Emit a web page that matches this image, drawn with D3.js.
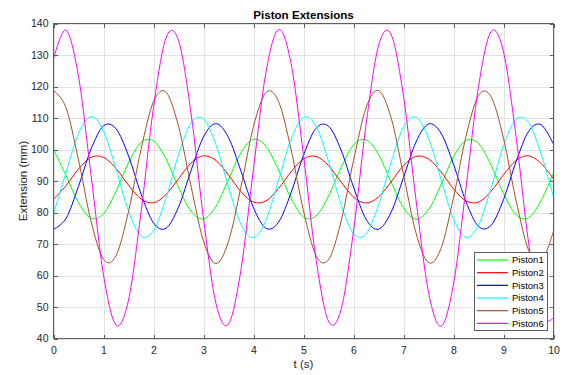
<!DOCTYPE html>
<html><head><meta charset="utf-8">
<script src="https://cdn.jsdelivr.net/npm/d3@7"></script>
<style>
body{margin:0;background:#fff;}
svg{display:block;font-family:"Liberation Sans",Arial,Helvetica,sans-serif;}
</style></head><body>
<svg id="chart" width="565" height="375"></svg>
<script>
// ---- data ----
const times = [0,0.25,0.5,0.75,1,1.25,1.5,1.75,2,2.25,2.5,2.75,3,3.25,3.5,3.75,4,4.25,4.5,4.75,5,5.25,5.5,5.75,6,6.25,6.5,6.75,7,7.25,7.5,7.75,8,8.25,8.5,8.75,9,9.25,9.5,9.75,10];
const piston1 = [100.0,91.8,83.1,78.2,79.6,86.7,95.8,102.2,102.7,97.0,88.0,80.4,78.0,82.0,90.5,99.0,103.2,101.0,93.5,84.5,78.6,78.9,85.2,94.2,101.4,103.1,98.4,89.7,81.5,77.9,80.9,88.8,97.7,102.9,101.9,95.1,86.0,79.3,78.3,83.7,92.6];
const piston2 = [84.2,88.5,93.8,97.5,97.5,94.0,88.7,84.3,83.1,85.7,90.7,95.7,98.0,96.5,91.9,86.6,83.3,83.7,87.6,92.9,97.0,97.8,94.9,89.7,84.9,83.0,84.9,89.7,94.9,97.8,97.0,92.9,87.5,83.7,83.3,86.7,92.0,96.5,98.0,95.6,90.7];
const piston3 = [74.7,78.1,88.3,100.1,107.5,106.6,98.0,85.9,76.7,75.0,81.7,93.3,104.0,108.2,103.8,93.1,81.5,75.0,76.9,86.2,98.2,106.7,107.4,99.9,88.1,77.9,74.7,80.0,91.1,102.4,108.1,105.2,95.3,83.4,75.6,75.9,84.1,96.1,105.7,107.9,101.7];
const piston4 = [79.5,92.7,105.1,110.4,105.9,93.8,80.5,72.6,74.2,84.6,98.3,108.4,109.7,101.5,88.1,76.2,72.0,77.6,90.2,103.3,110.2,107.4,96.3,82.6,73.3,73.2,82.3,95.9,107.1,110.2,103.6,90.6,77.9,72.1,76.0,87.7,101.2,109.6,108.6,98.7,85.0];
const piston5 = [118.7,113.3,96.7,77.3,65.1,66.3,80.3,100.0,115.2,118.2,107.4,88.4,70.9,63.8,70.8,88.2,107.3,118.1,115.3,100.1,80.5,66.4,65.0,77.1,96.5,113.2,118.7,110.2,92.0,73.5,64.1,68.6,84.7,104.2,117.1,116.8,103.5,83.9,68.1,64.2,74.1];
const piston6 = [128.7,137.9,123.2,92.0,60.2,44.3,52.2,80.0,113.4,135.4,134.6,111.6,78.0,51.1,44.6,61.9,94.0,124.6,138.1,127.4,98.1,65.2,45.5,49.1,74.1,107.8,132.9,136.6,116.9,84.0,54.7,43.9,57.3,87.8,120.0,137.4,131.0,104.2,70.6,47.5,46.6];
const seriesNames = ["Piston1","Piston2","Piston3","Piston4","Piston5","Piston6"];
const xTicks = [0,1,2,3,4,5,6,7,8,9,10];
const yTicks = [40,50,60,70,80,90,100,110,120,130,140];

// ---- styles ----
const seriesColors = ["#00ff00","#ff0000","#0000ff","#00ffff","#a0522d","#ff00ff"];
const seriesValues = [piston1,piston2,piston3,piston4,piston5,piston6];
const series = seriesNames.map((n,i)=>({name:n,color:seriesColors[i],values:seriesValues[i]}));

const W=565,H=375;
const m = {left:53.5,right:553.5,top:23.5,bottom:338.5};
const x = d3.scaleLinear().domain([0,10]).range([m.left,m.right]);
const y = d3.scaleLinear().domain([40,140]).range([m.bottom,m.top]);
const svg = d3.select("#chart");
const txt = "#262626", axc = "#5e5e5e", gridc = "#e2e2e2";

svg.append("rect").attr("width",W).attr("height",H).attr("fill","#fff");

// grid
svg.append("g").attr("transform",`translate(0,${m.bottom})`)
  .call(d3.axisBottom(x).tickValues(xTicks).tickSize(-(m.bottom-m.top)).tickFormat(""))
  .call(g=>{g.select(".domain").remove();g.selectAll("line").attr("stroke",gridc).attr("shape-rendering","crispEdges");});
svg.append("g").attr("transform",`translate(${m.left},0)`)
  .call(d3.axisLeft(y).tickValues(yTicks).tickSize(-(m.right-m.left)).tickFormat(""))
  .call(g=>{g.select(".domain").remove();g.selectAll("line").attr("stroke",gridc).attr("shape-rendering","crispEdges");});

// lines
svg.append("clipPath").attr("id","clip").append("rect")
  .attr("x",m.left).attr("y",m.top).attr("width",m.right-m.left).attr("height",m.bottom-m.top);
const line = d3.line().x((d,i)=>x(times[i])).y(d=>y(d)).curve(d3.curveCatmullRom.alpha(0));
svg.append("g").attr("clip-path","url(#clip)").selectAll("path").data(series).join("path")
  .attr("d",d=>line(d.values)).attr("fill","none").attr("stroke",d=>d.color).attr("stroke-width",1);

// axes (ticks inside, box)
function styleAxis(g){
  g.select(".domain").remove();
  g.selectAll(".tick line").attr("stroke",axc).attr("shape-rendering","crispEdges");
  g.selectAll("text").attr("fill",txt).attr("font-size","10.5px").attr("font-family",null);
}
svg.append("g").attr("transform",`translate(0,${m.bottom})`)
  .call(d3.axisBottom(x).tickValues(xTicks).tickSizeInner(-4).tickSizeOuter(0).tickPadding(8)).call(styleAxis);
svg.append("g").attr("transform",`translate(0,${m.top})`)
  .call(d3.axisTop(x).tickValues(xTicks).tickSizeInner(-4).tickSizeOuter(0).tickFormat("")).call(styleAxis);
svg.append("g").attr("transform",`translate(${m.left},0)`)
  .call(d3.axisLeft(y).tickValues(yTicks).tickSizeInner(-4).tickSizeOuter(0).tickPadding(5)).call(styleAxis);
svg.append("g").attr("transform",`translate(${m.right},0)`)
  .call(d3.axisRight(y).tickValues(yTicks).tickSizeInner(-4).tickSizeOuter(0).tickFormat("")).call(styleAxis);
svg.append("rect").attr("x",m.left).attr("y",m.top).attr("width",m.right-m.left).attr("height",m.bottom-m.top)
  .attr("fill","none").attr("stroke",axc).attr("shape-rendering","crispEdges");

// titles
svg.append("text").attr("x",(m.left+m.right)/2).attr("y",18.5).attr("text-anchor","middle")
  .attr("font-size","11.6px").attr("font-weight","bold").attr("fill","#000").text("Piston Extensions");
svg.append("text").attr("x",(m.left+m.right)/2).attr("y",368).attr("text-anchor","middle")
  .attr("font-size","11.5px").attr("fill",txt).text("t (s)");
svg.append("text").attr("transform",`translate(26.5,${(m.top+m.bottom)/2}) rotate(-90)`).attr("text-anchor","middle")
  .attr("font-size","11.5px").attr("fill",txt).text("Extension (mm)");

// legend
const lg = svg.append("g");
lg.append("rect").attr("x",474.5).attr("y",252.5).attr("width",73).attr("height",78)
  .attr("fill","#fff").attr("stroke",axc).attr("shape-rendering","crispEdges");
const ent = lg.selectAll("g.e").data(series).join("g").attr("class","e")
  .attr("transform",(d,i)=>`translate(0,${260+i*12.67})`);
ent.append("line").attr("x1",477).attr("x2",508).attr("y1",0).attr("y2",0)
  .attr("stroke",d=>d.color).attr("stroke-width",1.2);
ent.append("text").attr("x",512).attr("y",3.4).attr("font-size","9.5px").attr("fill","#000").text(d=>d.name);
</script>
</body></html>
